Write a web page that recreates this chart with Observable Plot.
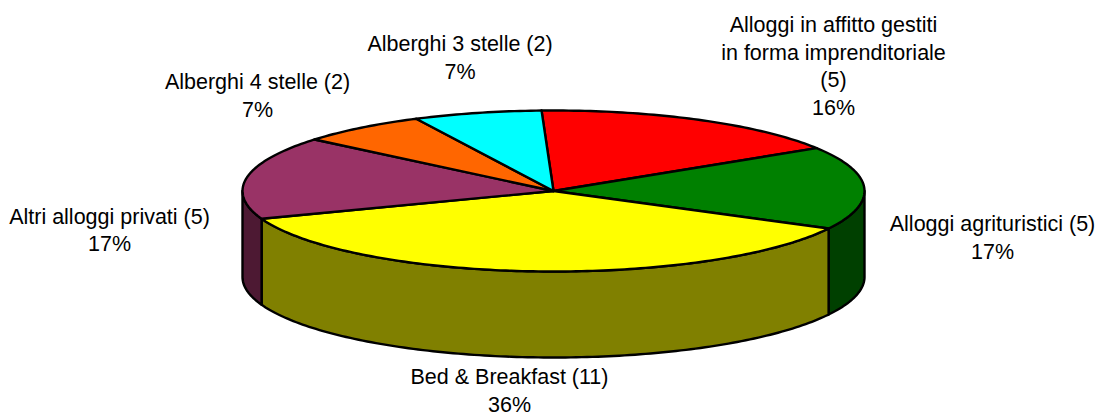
<!DOCTYPE html>
<html><head><meta charset="utf-8">
<style>html,body{margin:0;padding:0;background:#fff}svg{display:block}</style>
<script src="https://cdn.jsdelivr.net/npm/d3@7"></script>
<script src="https://cdn.jsdelivr.net/npm/@observablehq/plot@0.6"></script>
</head><body><div id="c"></div>
<script>
const categories = ["Alloggi in affitto gestiti\nin forma imprenditoriale\n(5)","Alloggi agrituristici (5)","Bed & Breakfast (11)","Altri alloggi privati (5)","Alberghi 4 stelle (2)","Alberghi 3 stelle (2)"];
const counts = [5,5,11,5,2,2];
const percents = ["16%","17%","36%","17%","7%","7%"];
const topColors = ["#ff0000","#008000","#ffff00","#993366","#ff6600","#00ffff"];
const sideColors = ["#800000","#004000","#808000","#4d1933","#803300","#008080"];
const labelX = [833,992,509,109,257,459.5];
const labelY = [64,235.5,388.5,228,93.5,55.5];

const W=1096,H=412,cx=553,cy=190.5,rx=311,ry=80.5,depth=86,startDeg=-2.2;
const total=d3.sum(counts);
let acc=startDeg;
const slices=counts.map((v,i)=>{const a0=acc;acc+=v/total*360;return {i,a0,a1:acc};});
const pt=(deg,drop=0)=>{const r=deg*Math.PI/180;return {x:cx+rx*Math.sin(r),y:cy-ry*Math.cos(r)+drop};};
const arc=(a0,a1,drop=0)=>d3.range(0,Math.ceil(a1-a0)+1).map(k=>pt(Math.min(a0+k,a1),drop));

const common={x:"x",y:"y",stroke:"#000",strokeWidth:2.4,strokeLinejoin:"round"};
const marks=[];
slices.forEach(s=>{
  const a0=Math.max(s.a0,90),a1=Math.min(s.a1,270);
  if(a1<=a0)return;
  const top=arc(a0,a1),bot=arc(a0,a1,depth).reverse();
  marks.push(Plot.line([...top,...bot,top[0]],{...common,fill:sideColors[s.i]}));
});
slices.forEach(s=>{
  const c={x:cx,y:cy};
  marks.push(Plot.line([c,...arc(s.a0,s.a1),c],{...common,fill:topColors[s.i]}));
});
const labels=categories.map((c,i)=>({t:c+"\n"+percents[i],x:labelX[i],y:labelY[i]}));
marks.push(Plot.text(labels,{x:"x",y:"y",text:"t",fill:"#000",fontSize:21.5,lineHeight:1.28,textAnchor:"middle",lineAnchor:"middle",fontFamily:"Liberation Sans, Arial, sans-serif"}));

document.getElementById("c").append(Plot.plot({
  width:W,height:H,margin:0,
  x:{domain:[0,W],range:[0,W],axis:null},
  y:{domain:[0,H],range:[0,H],axis:null},
  style:{background:"#fff",fontFamily:"Liberation Sans, Arial, sans-serif"},
  marks
}));
</script></body></html>
